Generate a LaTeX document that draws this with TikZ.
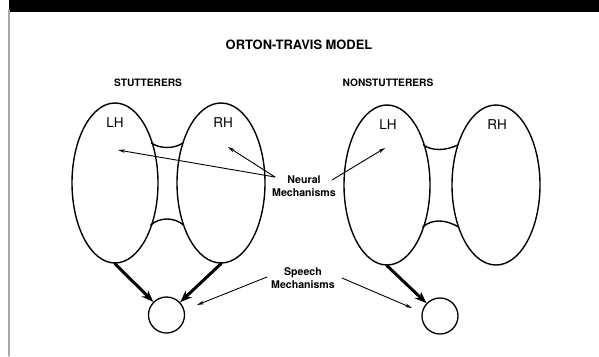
\documentclass[tikz,border=0pt]{standalone}
\usepackage{fontspec}
\setmainfont{TeX Gyre Heros}
\usetikzlibrary{arrows.meta,shapes.geometric}

\begin{document}
\begin{tikzpicture}[x=1pt,y=-1pt,line cap=round,
  hemi/.style={draw,ellipse,line width=1.4pt,inner sep=0pt},
  outlet/.style={draw,circle,line width=1.3pt,minimum size=36pt,inner sep=0pt},
  pathway/.style={line width=3pt,-{Stealth[length=12pt,width=9pt]}},
  pointer/.style={line width=0.9pt,-{Stealth[length=7pt,width=3.6pt]}},
  bridge/.style={line width=1.4pt},
  hemtag/.style={font=\fontsize{13.5}{13.5}\selectfont},
  grouptag/.style={font=\fontsize{10.2}{12}\selectfont\bfseries},
  mechtag/.style={align=center,font=\fontsize{10.6}{13}\selectfont\bfseries}]
\useasboundingbox (0,0) rectangle (599,356);
\fill[black] (9,0) rectangle (599,12);
\draw[gray!70,line width=1.2pt] (9,10) -- (9,356);
\node[font=\fontsize{12.9}{14}\selectfont\bfseries] (title) at (299,45) {ORTON-TRAVIS MODEL};
\node[grouptag] (stut) at (148,83) {STUTTERERS};
\node[grouptag] (nonstut) at (388,83) {NONSTUTTERERS};
% stutterers
\node[hemi,minimum width=86pt,minimum height=160pt] (lhS) at (115,183) {};
\node[hemi,minimum width=88pt,minimum height=160pt] (rhS) at (221,183) {};
\draw[bridge] (151.4,143) .. controls (160,149) and (174,149) .. (182.9,143);
\draw[bridge] (150.7,225) .. controls (160,217) and (174,217) .. (183.5,225);
\node[hemtag] (lhStag) at (115,123) {LH};
\node[hemtag] (rhStag) at (223,123) {RH};
\node[outlet] (spS) at (166.5,315) {};
\draw[pathway] (lhS.south) -- (spS);
\draw[pathway] (rhS.south) -- (spS);
% nonstutterers
\node[hemi,minimum width=86pt,minimum height=160pt] (lhN) at (387,185) {};
\node[hemi,minimum width=88pt,minimum height=160pt] (rhN) at (496,185) {};
\draw[bridge] (423.4,145) .. controls (432,151) and (445,151) .. (457.9,145);
\draw[bridge] (422.7,227) .. controls (432,219) and (445,219) .. (458.5,227);
\node[hemtag] (lhNtag) at (388,125) {LH};
\node[hemtag] (rhNtag) at (497,125) {RH};
\node[outlet] (spN) at (440,316) {};
\draw[pathway] (lhN.south) -- (spN);
% labels and pointers
\node[mechtag] (neural) at (304,186) {Neural\\Mechanisms};
\node[mechtag] (speech) at (303,278) {Speech\\Mechanisms};
\coordinate (nL) at (275,177);
\coordinate (nR) at (332,180);
\coordinate (sL) at (267,277);
\coordinate (sR) at (342,278);
\coordinate (lhSin) at (118,150);
\coordinate (rhSin) at (228,147);
\coordinate (lhNin) at (385,148);
\coordinate (spSnear) at (197,305);
\coordinate (spNnear) at (412,308);
\draw[pointer] (nL) -- (lhSin);
\draw[pointer] (nL) -- (rhSin);
\draw[pointer] (nR) -- (lhNin);
\draw[pointer] (sL) -- (spSnear);
\draw[pointer] (sR) -- (spNnear);
\end{tikzpicture}
\end{document}
